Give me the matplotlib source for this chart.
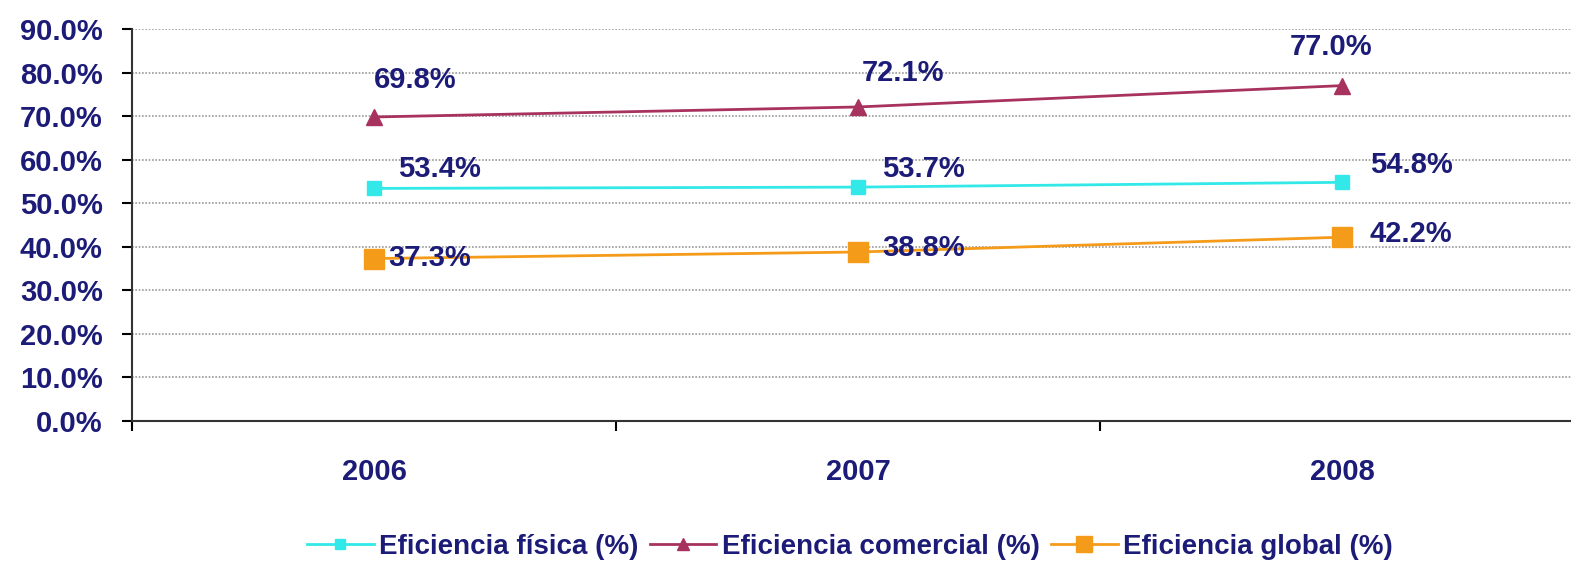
import matplotlib.pyplot as plt
from matplotlib.ticker import FixedLocator, FuncFormatter

# Datos
years = ["2006", "2007", "2008"]
fisica = [53.4, 53.7, 54.8]
comercial = [69.8, 72.1, 77.0]
glob = [37.3, 38.8, 42.2]

navy = "#1c1c78"
fam = ["Liberation Sans Narrow", "Liberation Sans", "DejaVu Sans"]
plt.rcParams["font.family"] = fam
plt.rcParams["font.weight"] = "bold"

fig = plt.figure(figsize=(15.71, 5.66), dpi=100)
ax = fig.add_axes([132 / 1571, 145 / 566, 1452 / 1571, 392 / 566])

x = range(len(years))
ax.plot(x, fisica, color="#33e8e8", lw=2, marker="s", ms=10, label="Eficiencia física (%)")
ax.plot(x, comercial, color="#a8325e", lw=2, marker="^", ms=12, label="Eficiencia comercial (%)")
ax.plot(x, glob, color="#f59b1a", lw=2, marker="s", ms=15, label="Eficiencia global (%)")

# Etiquetas de datos (desplazamiento en pixeles)
offs_c = [(0, 37), (4, 34), (-52, 39)]
offs_f = [(24, 19), (24, 18), (28, 17)]
offs_g = [(14, 1), (24, 4), (28, 3)]
for vals, offs in [(comercial, offs_c), (fisica, offs_f), (glob, offs_g)]:
    for i, v in enumerate(vals):
        ax.annotate(f"{v:.1f}%", (i, v), xytext=offs[i], textcoords="offset pixels",
                    ha="left", va="center", fontsize=21, color=navy, fontweight="bold")

ax.set_xlim(-0.5, 2.5)
ax.set_ylim(0, 90)
ax.set_yticks(range(0, 91, 10))
ax.yaxis.set_major_formatter(FuncFormatter(lambda v, p: f"{v:.1f}%"))
ax.set_xticks(list(x))
ax.set_xticklabels(years)
ax.xaxis.set_minor_locator(FixedLocator([-0.5, 0.5, 1.5]))
ax.tick_params(axis="x", which="major", length=0, pad=27, labelsize=21, labelcolor=navy)
ax.tick_params(axis="x", which="minor", length=7, width=1.5, direction="out")
ax.tick_params(axis="y", length=7, width=1.5, direction="out", labelsize=21,
               labelcolor=navy, pad=14)
for lab in ax.get_xticklabels() + ax.get_yticklabels():
    lab.set_fontweight("bold")

ax.grid(axis="y", color="#999999", ls=(0, (1, 1)), lw=1.2)
ax.set_axisbelow(True)
for s in ["top", "right"]:
    ax.spines[s].set_visible(False)
ax.spines["left"].set_linewidth(1.5)
ax.spines["bottom"].set_linewidth(1.5)
ax.spines["left"].set_color("#333333")
ax.spines["bottom"].set_color("#333333")

leg = fig.legend(loc="center", bbox_to_anchor=(850 / 1571, 1 - 547 / 566), ncol=3,
                 frameon=False, fontsize=20, handlelength=2.4, handletextpad=0.2,
                 columnspacing=0.4, markerscale=0.75)
for t in leg.get_texts():
    t.set_color(navy)
    t.set_fontweight("bold")

fig.savefig("out.png", dpi=100)
